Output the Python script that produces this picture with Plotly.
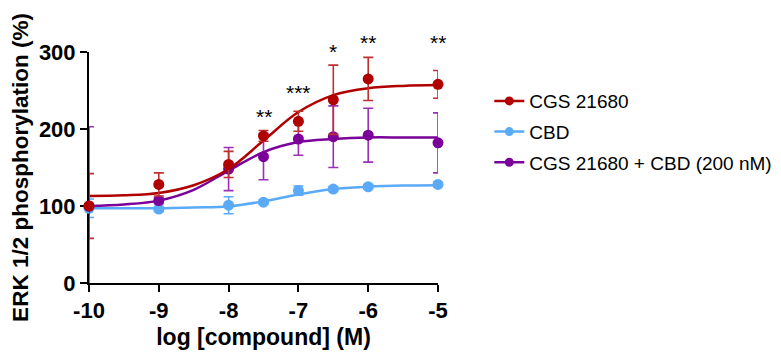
import plotly.graph_objects as go

# ---------------- data ----------------
log_conc_cgs = [-10, -9, -8, -7.5, -7, -6.5, -6, -5]
cgs_mean = [100, 128, 154, 191, 210, 238, 265, 258]
cgs_err = [42, 15, 17, 7, 13, 45, 28, 18]

log_conc_cbd = [-10, -9, -8, -7.5, -7, -6.5, -6, -5]
cbd_mean = [97, 96, 101, 105, 120, 122, 125, 128]
cbd_err = [12, 3, 11, 3, 6, 3, 3, 3]

log_conc_mix = [-10, -9, -8, -7.5, -7, -6.5, -6, -5]
mix_mean = [100, 107, 148, 164, 187, 190, 192, 182]
mix_err = [103, 4, 28, 30, 21, 40, 35, 39]

# fitted curves at half-log steps
curve_x = [-10, -9.5, -9, -8.5, -8, -7.5, -7, -6.5, -6, -5.5, -5]
cgs_curve = [113, 114, 117, 127, 148, 185, 222, 244, 253, 256, 257]
cbd_curve = [97, 97, 97, 98, 99.5, 106, 115, 122, 125, 126.5, 127]
mix_curve = [100, 102, 107, 121, 146, 170, 183, 187, 189, 189, 189]

sig_x = [-7.5, -7, -6.5, -6, -5]
sig_text = ["**", "***", "*", "**", "**"]
sig_y = [216, 247, 301, 312, 312]

x_ticks = [-10, -9, -8, -7, -6, -5]
y_ticks = [0, 100, 200, 300]

names = ["CGS 21680", "CBD", "CGS 21680 + CBD (200 nM)"]
RED, BLUE, PURPLE = "#b00000", "#5aaaf8", "#7a0099"
RED_E, BLUE_E, PURPLE_E = "#c03030", "#5aaaf8", "#9a30b8"
FONT = "Liberation Sans, Arial"
Y_MIN, Y_MAX = 0, 300

fig = go.Figure()

series = [
    (names[1], log_conc_cbd, cbd_mean, cbd_err, cbd_curve, BLUE, BLUE_E, 2),
    (names[2], log_conc_mix, mix_mean, mix_err, mix_curve, PURPLE, PURPLE_E, 3),
    (names[0], log_conc_cgs, cgs_mean, cgs_err, cgs_curve, RED, RED_E, 1),
]

for name, xs, ys, es, cy, col, ecol, rank in series:
    fig.add_trace(go.Scatter(
        x=curve_x, y=cy, mode="lines", line=dict(color=col, width=2.5, shape="spline"),
        showlegend=False, hoverinfo="skip", cliponaxis=False))
    fig.add_trace(go.Scatter(
        x=xs, y=ys, mode="markers",
        marker=dict(color=col, size=11),
        error_y=dict(type="data", array=es, visible=True, color=ecol, thickness=1.6, width=5),
        showlegend=False, cliponaxis=False))
    fig.add_trace(go.Scatter(
        x=[None], y=[None], mode="lines+markers", name=name, legendgroup=name,
        line=dict(color=col, width=2.5), marker=dict(color=col, size=9),
        legendrank=rank))

# significance stars (y given in data units, converted to paper fraction so
# those above the axis top are not hidden)
for sx, st, sy in zip(sig_x, sig_text, sig_y):
    fig.add_annotation(x=sx, xref="x", y=(sy - Y_MIN) / (Y_MAX - Y_MIN), yref="paper",
                       text=st, showarrow=False, yanchor="middle",
                       font=dict(family=FONT, size=21, color="black"))

axis_common = dict(
    showline=True, linecolor="black", linewidth=2, ticks="outside",
    ticklen=7, tickwidth=2, tickcolor="black", showgrid=False, zeroline=False,
    layer="below traces",
    tickfont=dict(family=FONT, size=22, color="black", weight="bold"),
)

fig.update_xaxes(range=[-10, -5], tickvals=x_ticks, ticktext=[str(t) for t in x_ticks],
                 title=dict(text="log [compound] (M)", standoff=6,
                            font=dict(family=FONT, size=23, color="black", weight="bold")),
                 **axis_common)
fig.update_yaxes(range=[Y_MIN, Y_MAX], tickvals=y_ticks,
                 title=dict(text="ERK 1/2 phosphorylation (%)", standoff=8,
                            font=dict(family=FONT, size=22.5, color="black", weight="bold")),
                 **axis_common)

fig.update_layout(
    width=781, height=360,
    margin=dict(l=81, r=351, t=44, b=85, autoexpand=False),
    plot_bgcolor="white", paper_bgcolor="white",
    legend=dict(x=1.147, y=0.87, xanchor="left", yanchor="top",
                font=dict(family=FONT, size=19, color="black"),
                tracegroupgap=3, itemwidth=30, bgcolor="rgba(0,0,0,0)"),
)

fig.write_html("out.html")
